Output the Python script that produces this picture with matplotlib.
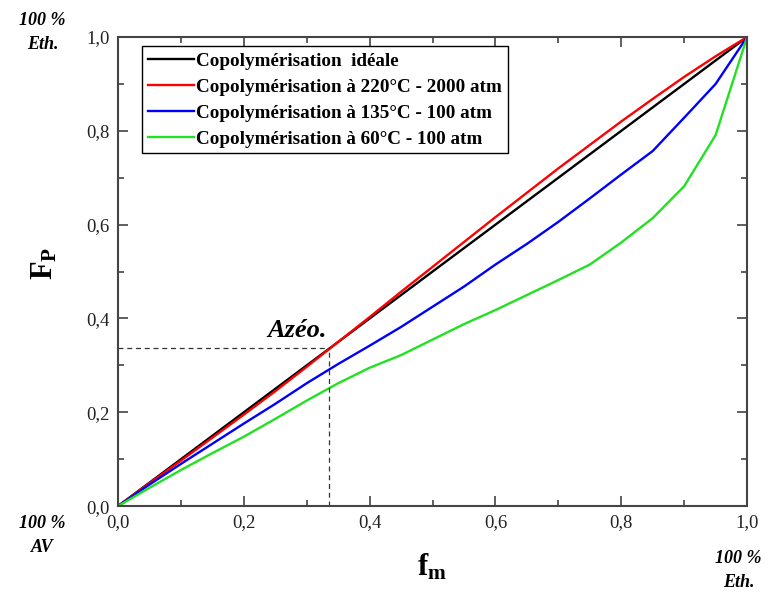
import matplotlib
matplotlib.use("Agg")
import matplotlib.pyplot as plt
from matplotlib.ticker import MultipleLocator, FuncFormatter

plt.rcParams['font.family'] = ['Liberation Serif', 'DejaVu Serif']
plt.rcParams['mathtext.fontset'] = 'custom'
plt.rcParams['mathtext.rm'] = 'Liberation Serif'
plt.rcParams['mathtext.bf'] = 'Liberation Serif:bold'
plt.rcParams['mathtext.it'] = 'Liberation Serif:italic'

f_m = [0.0, 0.05, 0.10, 0.15, 0.20, 0.25, 0.30, 0.35, 0.40, 0.45, 0.50,
       0.55, 0.60, 0.65, 0.70, 0.75, 0.80, 0.85, 0.90, 0.95, 1.0]
F_ideal = [0.0, 0.05, 0.10, 0.15, 0.20, 0.25, 0.30, 0.35, 0.40, 0.45, 0.50,
           0.55, 0.60, 0.65, 0.70, 0.75, 0.80, 0.85, 0.90, 0.95, 1.0]
F_220 = [0.0, 0.049, 0.097, 0.146, 0.195, 0.245, 0.297, 0.350, 0.403, 0.457, 0.510,
         0.563, 0.616, 0.668, 0.720, 0.770, 0.820, 0.868, 0.915, 0.959, 1.0]
F_135 = [0.0, 0.046, 0.090, 0.133, 0.176, 0.218, 0.262, 0.303, 0.342, 0.382, 0.425,
         0.468, 0.515, 0.559, 0.606, 0.656, 0.707, 0.757, 0.828, 0.900, 1.0]
F_60 = [0.0, 0.039, 0.077, 0.113, 0.148, 0.186, 0.225, 0.262, 0.295, 0.322, 0.355,
        0.388, 0.418, 0.450, 0.482, 0.515, 0.562, 0.614, 0.682, 0.791, 1.0]

labels = ["Copolymérisation  idéale",
          "Copolymérisation à 220°C - 2000 atm",
          "Copolymérisation à 135°C - 100 atm",
          "Copolymérisation à 60°C - 100 atm"]
colors = ["#000000", "#FF0000", "#0000FF", "#22E022"]

azeo_f = 0.336
azeo_F = 0.338

fig = plt.figure(figsize=(7.71, 5.92), dpi=100)
ax = fig.add_axes([0.153, 0.145, 0.816, 0.7925])

for F, lab, c in zip([F_ideal, F_220, F_135, F_60], labels, colors):
    ax.plot(f_m, F, color=c, lw=1.7, label=lab)

ax.plot([0, azeo_f], [azeo_F, azeo_F], color='#333333', lw=0.9, ls=(0, (4, 3)))
ax.plot([azeo_f, azeo_f], [0, azeo_F], color='#333333', lw=0.9, ls=(0, (4, 3)))

ax.set_xlim(0, 1)
ax.set_ylim(0, 1)
ax.xaxis.set_major_locator(MultipleLocator(0.2))
ax.xaxis.set_minor_locator(MultipleLocator(0.1))
ax.yaxis.set_major_locator(MultipleLocator(0.2))
ax.yaxis.set_minor_locator(MultipleLocator(0.1))
fmt = FuncFormatter(lambda v, p: f"{v:.1f}".replace('.', ','))
ax.xaxis.set_major_formatter(fmt)
ax.yaxis.set_major_formatter(fmt)
ax.tick_params(which='both', direction='in', top=True, right=True,
               color='#444444', labelsize=13.5, labelcolor='#222222')
ax.tick_params(which='major', length=7, width=1.2, pad=6)
ax.tick_params(which='minor', length=4, width=1.2)
for s in ax.spines.values():
    s.set_color('#444444')
    s.set_linewidth(1.5)

leg = ax.legend(loc='upper left', bbox_to_anchor=(0.038, 0.98), frameon=True,
                fancybox=False, edgecolor='black', framealpha=1,
                prop={'family': 'Liberation Serif', 'weight': 'bold', 'size': 13.8},
                handlelength=2.4, handletextpad=0.15, labelspacing=0.45,
                borderpad=0.3, borderaxespad=0)
leg.get_frame().set_linewidth(1.0)

ax.text(0.237, 0.375, "Azéo.", fontsize=19, fontweight='bold', style='italic',
        transform=ax.transData, ha='left', va='center')

fig.text(0.058, 0.555, r"$\mathbf{F}_{\mathbf{P}}$", fontsize=22, rotation=90,
         ha='center', va='center')
fig.text(0.56, 0.042, r"$\mathbf{f}_{\mathbf{m}}$", fontsize=22,
         ha='center', va='center')

corner = dict(fontsize=13, fontweight='bold', style='italic', ha='center',
              va='center', linespacing=1.55)
fig.text(0.055, 0.945, "100 %\nEth.", **corner)
fig.text(0.055, 0.096, "100 %\nAV", **corner)
fig.text(0.958, 0.037, "100 %\nEth.", **corner)

fig.savefig("out.png", dpi=100)
